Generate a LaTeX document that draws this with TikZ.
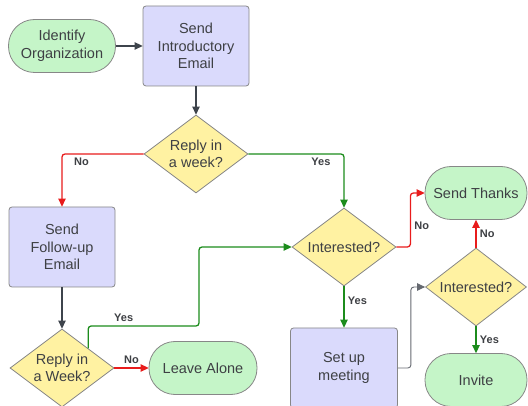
\documentclass[tikz,border=0pt]{standalone}
\usepackage{fontspec}
\setmainfont{Liberation Sans}
\usetikzlibrary{shapes.geometric,arrows.meta}

\definecolor{termfill}{RGB}{197,245,200}
\definecolor{procfill}{RGB}{218,218,252}
\definecolor{decfill}{RGB}{255,242,162}
\definecolor{edgegray}{RGB}{135,135,135}
\definecolor{txtgray}{RGB}{62,64,68}
\definecolor{nored}{RGB}{232,28,28}
\definecolor{yesgreen}{RGB}{28,140,28}
\definecolor{flowgray}{RGB}{62,68,76}

\tikzset{
    base/.style={draw=edgegray, line width=0.8pt, text=txtgray, align=center, font=\fontsize{14.5}{17.5}\selectfont},
    term/.style={base, fill=termfill, rounded corners=26pt, minimum width=107pt, minimum height=53pt},
    proc/.style={base, fill=procfill, rounded corners=3pt, minimum width=106pt, minimum height=80pt},
    dec/.style={base, fill=decfill, diamond, aspect=1.33, inner sep=0pt, minimum width=104pt, minimum height=78pt},
    lbl/.style={font=\fontsize{11}{13}\selectfont\bfseries, text=txtgray},
    flow/.style={->, line width=1.3pt, rounded corners=3pt, flowgray},
    noflow/.style={flow, nored},
    yesflow/.style={flow, yesgreen}
}

\begin{document}
\begin{tikzpicture}[x=1pt, y=-1pt, >={Triangle[length=8pt, width=7.5pt]}]
    \useasboundingbox (0,0) rectangle (528,406);

    \node [term] (idorg) at (62,46) {Identify\\Organization};
    \node [proc] (intro) at (196,46) {Send\\Introductory\\Email};
    \node [dec] (reply1) at (196,154) {Reply in\\a week?};
    \node [proc] (followup) at (62,247) {Send\\Follow-up\\Email};
    \node [dec] (reply2) at (62,368) {Reply in\\a Week?};
    \node [term, minimum width=108pt] (leave) at (203,368) {Leave Alone};
    \node [dec] (interest1) at (344,247) {Interested?};
    \node [proc, minimum width=107pt] (setup) at (344,368) {Set up\\meeting};
    \node [term, minimum width=102pt] (thanks) at (476,193) {Send Thanks};
    \node [dec, minimum width=101pt] (interest2) at (476,287) {Interested?};
    \node [term, minimum width=102pt] (invite) at (476,380) {Invite};

    \draw [flow] (idorg) -- (intro);
    \draw [flow] (intro) -- (reply1);
    \draw [noflow] (reply1.west) -| node [lbl, pos=0.45, below right] {No} (followup.north);
    \draw [yesflow] (reply1.east) -| node [lbl, pos=0.45, below left] {Yes} (interest1.north);
    \draw [flow] (followup) -- (reply2);
    \draw [noflow] (reply2.east) -- node [lbl, above] {No} (leave);
    \draw [yesflow] (reply2.north east) |- node [lbl, pos=0.66, above] {Yes} (199,326) |- (interest1.west);
    \draw [noflow] (interest1.east) -- ++(14,0) |- node [lbl, pos=0.2, right] {No} (thanks.west);
    \draw [yesflow] (interest1) -- node [lbl, pos=0.35, right] {Yes} (setup);
    \draw [flow, line width=0.9pt, color=flowgray!80] (setup.east) -- ++(13,0) |- (interest2.west);
    \draw [noflow] (interest2) -- node [lbl, right] {No} (thanks);
    \draw [yesflow] (interest2) -- node [lbl, right] {Yes} (invite);

\end{tikzpicture}
\end{document}
